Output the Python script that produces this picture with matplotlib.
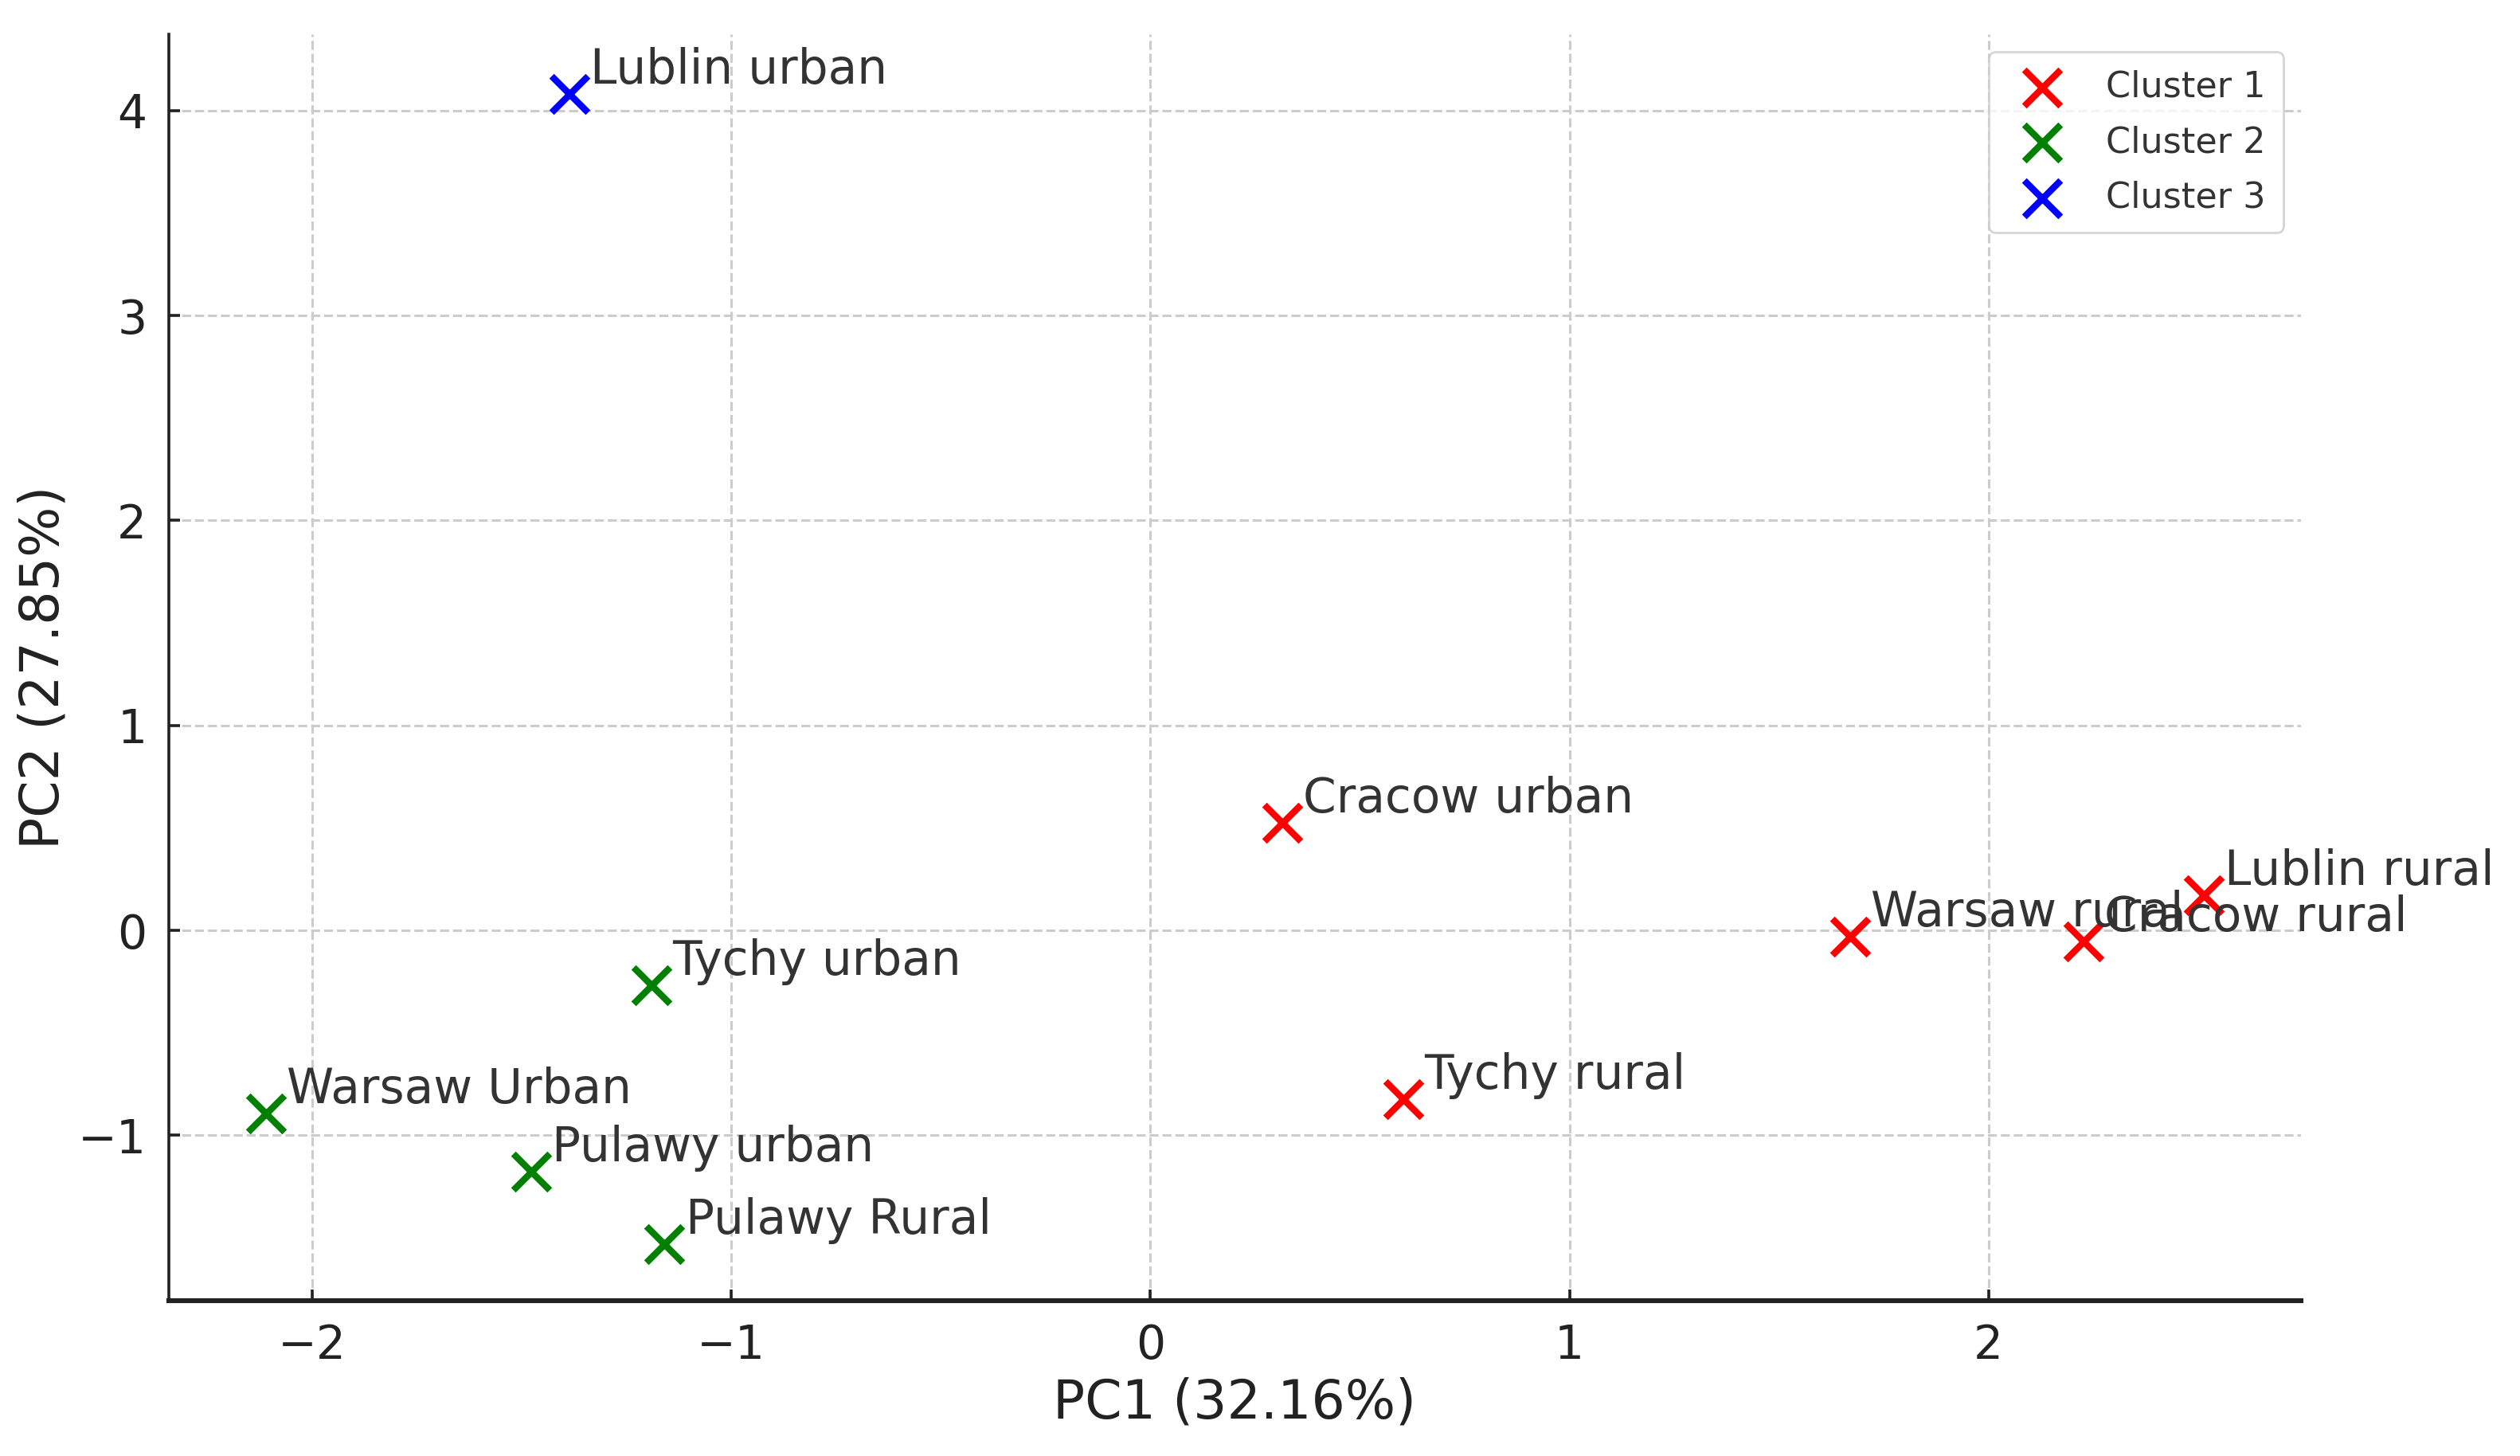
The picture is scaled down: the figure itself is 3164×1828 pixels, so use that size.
import matplotlib
matplotlib.use("Agg")
import matplotlib.pyplot as plt

names = ["Lublin urban", "Cracow urban", "Lublin rural", "Warsaw rural", "Cracow rural",
         "Tychy rural", "Tychy urban", "Warsaw Urban", "Pulawy urban", "Pulawy Rural"]
pc1 = [-1.386, 0.315, 2.514, 1.670, 2.226, 0.603, -1.190, -2.111, -1.478, -1.159]
pc2 = [4.08, 0.526, 0.173, -0.031, -0.055, -0.824, -0.267, -0.895, -1.177, -1.531]
cluster = [3, 1, 1, 1, 1, 1, 2, 2, 2, 2]
cluster_names = ["Cluster 1", "Cluster 2", "Cluster 3"]
cluster_colors = ["red", "green", "blue"]

plt.rcParams['font.family'] = ['DejaVu Sans']
fig = plt.figure(figsize=(15.82, 9.14), dpi=200)
ax = fig.add_axes([0.067, 0.1067, 0.846, 0.8698])

for k, (cn, col) in enumerate(zip(cluster_names, cluster_colors), start=1):
    xs = [x for x, c in zip(pc1, cluster) if c == k]
    ys = [y for y, c in zip(pc2, cluster) if c == k]
    ax.scatter(xs, ys, marker='x', s=270, linewidths=3.0, color=col, label=cn, zorder=3)

for n, x, y in zip(names, pc1, pc2):
    ax.text(x + 0.05, y + 0.05, n, fontsize=21.5, color='#333333', zorder=4)

ax.set_xlim(-2.342, 2.745)
ax.set_ylim(-1.807, 4.373)
ax.set_xticks([-2, -1, 0, 1, 2])
ax.set_yticks([-1, 0, 1, 2, 3, 4])

ax.set_xlabel("PC1 (32.16%)", fontsize=24, color='#222222')
ax.set_ylabel("PC2 (27.85%)", fontsize=24, color='#222222')

ax.grid(True, linestyle='--', color='#cccccc', linewidth=1.1)
ax.set_axisbelow(True)

for s in ['top', 'right']:
    ax.spines[s].set_visible(False)
ax.spines['left'].set_linewidth(1.3)
ax.spines['bottom'].set_linewidth(2.2)
ax.spines['left'].set_color('#222222')
ax.spines['bottom'].set_color('#222222')

ax.tick_params(axis='both', direction='in', length=5, width=1.3, labelsize=21,
               colors='#222222', pad=10)

leg = ax.legend(loc='upper right', fontsize=16, frameon=True, borderpad=0.5,
                labelspacing=0.6, handletextpad=0.8)
for t in leg.get_texts():
    t.set_color('#333333')
leg.get_frame().set_edgecolor('#cccccc')

fig.savefig("out.png", dpi=200)
